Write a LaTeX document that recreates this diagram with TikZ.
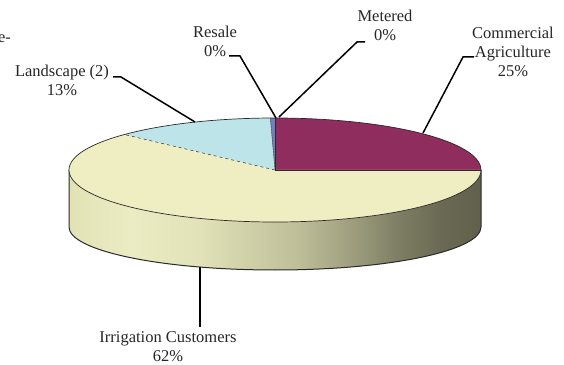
\documentclass[tikz,border=0pt]{standalone}
\usepackage{fontspec}
\setmainfont{Liberation Serif}
\definecolor{purp}{HTML}{8F2D5E}
\definecolor{lblue}{HTML}{BDE4E8}
\definecolor{yel}{HTML}{EEEEC2}
\definecolor{sliv}{HTML}{7A7AC2}
\definecolor{edgec}{HTML}{2A2A2A}
\definecolor{txt}{HTML}{262626}
\definecolor{sa}{HTML}{E2E2B6}
\definecolor{sb}{HTML}{ECECC4}
\definecolor{sc}{HTML}{E2E2B8}
\definecolor{sd}{HTML}{CFCFA8}
\definecolor{se}{HTML}{BDBD98}
\definecolor{sf}{HTML}{A0A080}
\definecolor{sg}{HTML}{7E7E64}
\definecolor{sh}{HTML}{6A6A54}
\definecolor{si}{HTML}{60604C}
\pgfdeclarehorizontalshading{sideshade}{100bp}{color(0bp)=(sa); color(25bp)=(sa); color(32.5bp)=(sb); color(41bp)=(sc); color(47bp)=(sd); color(53bp)=(se); color(59bp)=(sf); color(65bp)=(sg); color(70bp)=(sh); color(75bp)=(si); color(100bp)=(si)}
\begin{document}
\begin{tikzpicture}[x=1pt,y=1pt,
  lead/.style={line width=1.5pt, draw=black},
  lbl/.style={font=\fontsize{16.5}{19}\selectfont, text=txt, align=center, inner sep=0pt},
  edge/.style={draw=edgec, line width=0.7pt}]
\useasboundingbox (0,0) rectangle (564,364);
\coordinate (C) at (275,194);
% side
\path[shading=sideshade] (69,194) -- (69,137) arc[start angle=180,end angle=360,x radius=206,y radius=43] -- (481,194) arc[start angle=0,end angle=-180,x radius=206,y radius=52] -- cycle;
\draw[edge, line width=1pt] (69,194) -- (69,137) arc[start angle=180,end angle=360,x radius=206,y radius=43] -- (481,194);
% top slices
\fill[purp] (C) -- +(0:206 and 52) arc[start angle=0,end angle=90,x radius=206,y radius=52] -- cycle;
\fill[sliv] (C) -- +(90:206 and 52) arc[start angle=90,end angle=91.3,x radius=206,y radius=52] -- cycle;
\fill[lblue] (C) -- +(91.3:206 and 52) arc[start angle=91.3,end angle=137,x radius=206,y radius=52] -- cycle;
\fill[yel] (C) -- +(137:206 and 52) arc[start angle=137,end angle=360,x radius=206,y radius=52] -- cycle;
\draw[edge] (C) ellipse[x radius=206,y radius=52];
\draw[edge] (C) -- +(0:206 and 52);
\draw[edge, line width=0.4pt] (C) -- +(90:206 and 52);
\draw[edge, line width=0.4pt] (C) -- +(91.3:206 and 52);
\draw[edge, dashed, line width=0.5pt] (C) -- +(137:206 and 52);
% labels (anchor base = baseline of the last line)
\node[lbl, anchor=base] (ee) at (4.5,321) {e-};
\node[lbl, anchor=base] (resale) at (215,307) {Resale\\0\%};
\node[lbl, anchor=base] (metered) at (385,323) {Metered\\0\%};
\node[lbl, anchor=base] (comm) at (513,287) {Commercial\\Agriculture\\25\%};
\node[lbl, anchor=base] (land) at (62,268) {Landscape (2)\\13\%};
\node[lbl, anchor=base] (irr) at (168,3) {Irrigation Customers\\62\%};
% leader points
\coordinate (r1) at (229,308); \coordinate (r2) at (240,308); \coordinate (r3) at (276,246);
\coordinate (m1) at (365,322); \coordinate (m2) at (357,322); \coordinate (m3) at (279,247);
\coordinate (c1) at (474,307); \coordinate (c2) at (463,307); \coordinate (c3) at (423,231);
\coordinate (l1) at (113,287); \coordinate (l2) at (121,287); \coordinate (l3) at (195,242);
\coordinate (i1) at (200,97); \coordinate (i2) at (200,37);
\draw[lead] (r1) -- (r2) -- (r3);
\draw[lead] (m1) -- (m2) -- (m3);
\draw[lead] (c1) -- (c2) -- (c3);
\draw[lead] (l1) -- (l2) -- (l3);
\draw[lead, line width=2.6pt] (i1) -- (i2);
\end{tikzpicture}
\end{document}
